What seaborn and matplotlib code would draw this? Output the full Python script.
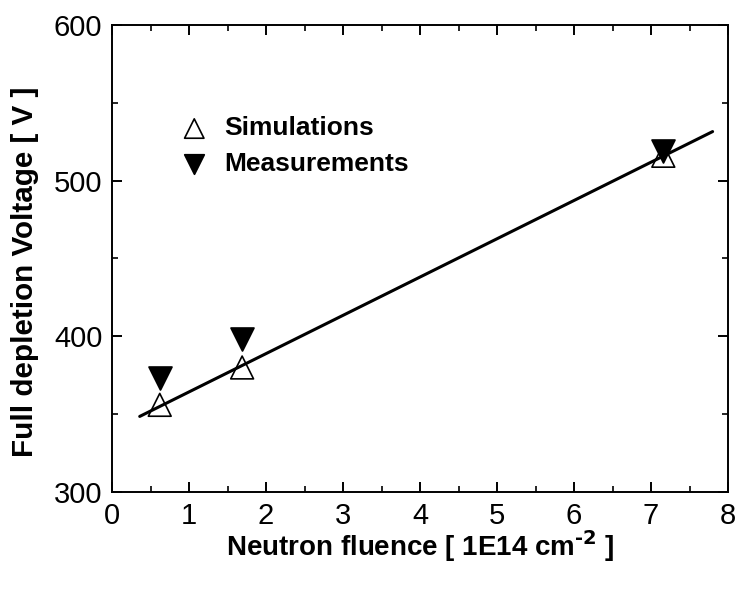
import numpy as np
import pandas as pd
import matplotlib
matplotlib.use("Agg")
import matplotlib.pyplot as plt
import seaborn as sns
from matplotlib.ticker import MultipleLocator

# Fluence in units of 1E14 cm^-2, voltage in V
sim_fluence = [0.62, 1.69, 7.16]
sim_voltage = [356, 380, 516]
meas_fluence = [0.62, 1.69, 7.16]
meas_voltage = [373, 398, 519]
fit_range = [0.36, 7.8]

sns.set_theme(style="ticks")
plt.rcParams["font.family"] = ["Liberation Sans", "DejaVu Sans"]
plt.rcParams["axes.unicode_minus"] = False
plt.rcParams["text.color"] = "black"
plt.rcParams["axes.labelcolor"] = "black"

fig = plt.figure(figsize=(7.38, 5.89), dpi=100)
ax = fig.add_axes([112 / 738, 1 - 492 / 589, 616 / 738, 467 / 589])

# Linear fit through the simulated points
slope, intercept = np.polyfit(sim_fluence, sim_voltage, 1)
fit_x = np.array(fit_range)
fit_df = pd.DataFrame({"x": fit_x, "y": slope * fit_x + intercept})
sns.lineplot(data=fit_df, x="x", y="y", ax=ax, color="black", lw=2.2, zorder=2)

sim_df = pd.DataFrame({"x": sim_fluence, "y": sim_voltage})
meas_df = pd.DataFrame({"x": meas_fluence, "y": meas_voltage})
sns.scatterplot(data=meas_df, x="x", y="y", ax=ax, marker="v", s=270,
                color="black", edgecolor="black", zorder=3, label="Measurements")
sns.scatterplot(data=sim_df, x="x", y="y", ax=ax, marker="^", s=270,
                facecolor="none", edgecolor="black", linewidth=1.2, zorder=4,
                label="Simulations")

ax.set_xlim(0, 8)
ax.set_ylim(300, 600)
ax.xaxis.set_major_locator(MultipleLocator(1))
ax.xaxis.set_minor_locator(MultipleLocator(0.5))
ax.yaxis.set_major_locator(MultipleLocator(100))
ax.yaxis.set_minor_locator(MultipleLocator(50))
ax.tick_params(which="both", direction="in", top=True, right=True,
               labelsize=21, colors="black", pad=7)
ax.tick_params(which="major", length=7, width=1.4)
ax.tick_params(which="minor", length=4, width=1.2)
for sp in ax.spines.values():
    sp.set_linewidth(1.4)
    sp.set_color("black")

ax.set_xlabel("Neutron fluence [ 1E14 cm$^{\\mathbf{\u2010}\\mathbf{2}}$ ]",
              fontsize=20, fontweight="bold", labelpad=-1)
ax.set_ylabel("Full depletion Voltage [ V ]", fontsize=21.3,
              fontweight="bold")
ax.yaxis.set_label_coords(-0.118, 0.471)

handles, labels = ax.get_legend_handles_labels()
order = [labels.index("Simulations"), labels.index("Measurements")]
ax.legend([handles[i] for i in order], [labels[i] for i in order],
          loc="upper left", bbox_to_anchor=(0.065, 0.855), frameon=False,
          prop={"size": 19, "weight": "bold"}, handletextpad=0.45,
          labelspacing=0.45, markerscale=0.85, handlelength=1.4)

fig.savefig("out.png", dpi=100)
